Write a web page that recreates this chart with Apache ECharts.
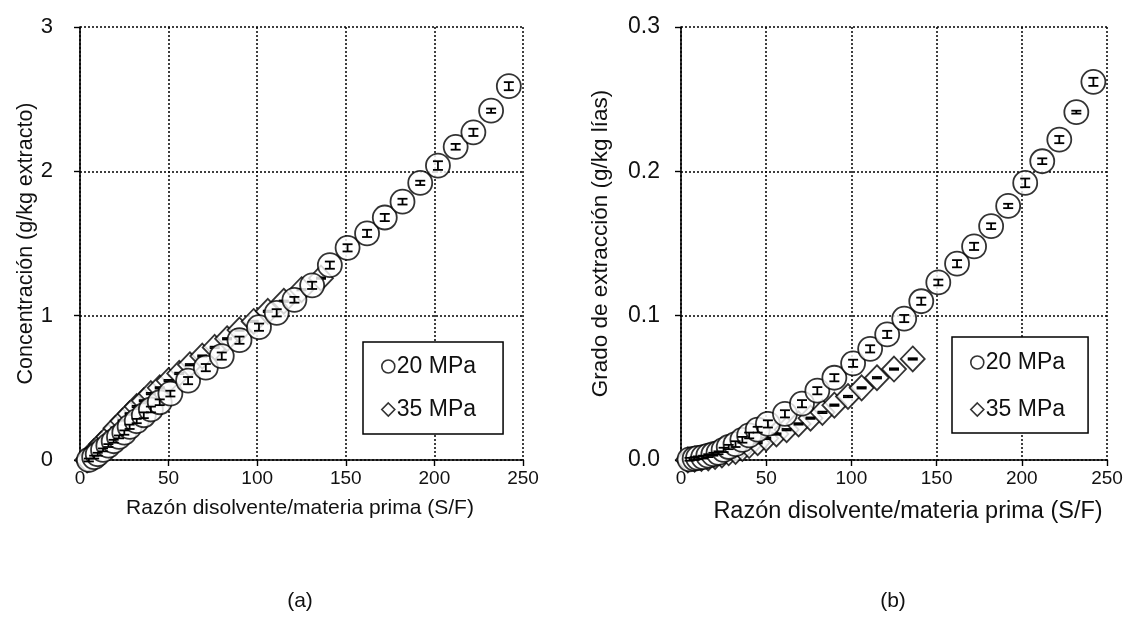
<!DOCTYPE html>
<html>
<head>
<meta charset="utf-8">
<script src="https://cdn.jsdelivr.net/npm/echarts@6/dist/echarts.min.js"></script>
<style>
  html, body { margin: 0; padding: 0; background: #fff; }
  #chart { width: 1127px; height: 621px; }
</style>
</head>
<body>
<div id="chart"></div>
<script>
// datos
const sf20 = [5, 8, 10, 13, 16, 19, 22, 25, 28, 32, 36, 40, 45, 51, 61, 71, 80, 90, 101, 111, 121, 131, 141, 151, 162, 172, 182, 192, 202, 212, 222, 232, 242]
const conc20 = [0.0, 0.02, 0.04, 0.07, 0.10, 0.13, 0.16, 0.19, 0.23, 0.27, 0.31, 0.35, 0.40, 0.46, 0.55, 0.64, 0.72, 0.83, 0.92, 1.02, 1.11, 1.21, 1.35, 1.47, 1.57, 1.68, 1.79, 1.92, 2.04, 2.17, 2.27, 2.42, 2.59]
const errConc20 = [0.01, 0.01, 0.01, 0.01, 0.01, 0.01, 0.01, 0.015, 0.015, 0.015, 0.02, 0.02, 0.02, 0.02, 0.025, 0.025, 0.025, 0.025, 0.025, 0.025, 0.02, 0.025, 0.025, 0.025, 0.025, 0.025, 0.02, 0.015, 0.03, 0.02, 0.025, 0.015, 0.028]
const grado20 = [0.0005, 0.001, 0.0015, 0.002, 0.003, 0.004, 0.005, 0.007, 0.009, 0.011, 0.014, 0.017, 0.021, 0.025, 0.032, 0.039, 0.048, 0.057, 0.067, 0.077, 0.087, 0.098, 0.110, 0.123, 0.136, 0.148, 0.162, 0.176, 0.192, 0.207, 0.222, 0.241, 0.262]
const errGrado20 = [0.001, 0.001, 0.001, 0.001, 0.001, 0.001, 0.001, 0.0015, 0.0015, 0.002, 0.002, 0.002, 0.002, 0.0025, 0.0025, 0.0025, 0.0025, 0.0025, 0.0025, 0.0025, 0.0025, 0.0025, 0.0025, 0.002, 0.0025, 0.0025, 0.002, 0.0015, 0.003, 0.002, 0.0025, 0.001, 0.0028]

const sf35 = [4, 8, 12, 16, 20, 24, 28, 32, 36, 40, 45, 50, 56, 62, 69, 76, 83, 90, 98, 106, 115, 125, 136]
const conc35 = [0.0, 0.06, 0.11, 0.16, 0.22, 0.27, 0.32, 0.37, 0.41, 0.46, 0.50, 0.55, 0.60, 0.66, 0.72, 0.78, 0.84, 0.90, 0.96, 1.03, 1.10, 1.18, 1.26]
const errConc35 = [0.005, 0.005, 0.005, 0.005, 0.005, 0.005, 0.005, 0.005, 0.005, 0.005, 0.005, 0.005, 0.005, 0.005, 0.005, 0.005, 0.005, 0.005, 0.005, 0.005, 0.005, 0.005, 0.005]
const grado35 = [0.0, 0.0005, 0.001, 0.0015, 0.0025, 0.0035, 0.005, 0.006, 0.008, 0.010, 0.012, 0.015, 0.018, 0.021, 0.025, 0.029, 0.033, 0.038, 0.044, 0.050, 0.057, 0.063, 0.070]
const errGrado35 = [0.0005, 0.0005, 0.0005, 0.0005, 0.0005, 0.0005, 0.0005, 0.0005, 0.0005, 0.0005, 0.0005, 0.0005, 0.0005, 0.0005, 0.0005, 0.0005, 0.0005, 0.0005, 0.0005, 0.0005, 0.0005, 0.0005, 0.0005]

const FONT = 'Liberation Sans, Arial, sans-serif'

function pares(xs, ys) {
  return xs.map((x, i) => [x, ys[i]])
}
function conError(xs, ys, es) {
  return xs.map((x, i) => [x, ys[i], es[i]])
}

// barra de error con tapas, dibujada sobre el marcador
function barraError(params, api) {
  let x = api.value(0), y = api.value(1), e = api.value(2)
  let pTop = api.coord([x, y + e])
  let pBot = api.coord([x, y - e])
  let cx = pTop[0]
  let h = 5
  let st = { stroke: '#000', lineWidth: 1.8 }
  return {
    type: 'group',
    children: [
      { type: 'line', shape: { x1: cx, y1: pTop[1], x2: cx, y2: pBot[1] }, style: st },
      { type: 'line', shape: { x1: cx - h, y1: pTop[1], x2: cx + h, y2: pTop[1] }, style: st },
      { type: 'line', shape: { x1: cx - h, y1: pBot[1], x2: cx + h, y2: pBot[1] }, style: st }
    ]
  }
}

function ejeX(idx) {
  return {
    type: 'value', gridIndex: idx, min: 0, max: 250, interval: 50,
    axisLine: { show: true, onZero: false, lineStyle: { color: '#000', width: 1.6 } },
    axisTick: { show: true, inside: false, length: 6, lineStyle: { color: '#000', width: 1.4 } },
    axisLabel: { color: '#111', fontSize: 19, fontFamily: FONT, margin: 9 },
    splitLine: { show: true, lineStyle: { color: '#000', type: [2, 2], width: 1.5 } }
  }
}
function ejeY(idx, max, interval, name, gap, dec, fs, lfs, lmargin) {
  return {
    type: 'value', gridIndex: idx, min: 0, max: max, interval: interval,
    name: name, nameLocation: 'middle', nameRotate: 90, nameGap: gap,
    nameTextStyle: { color: '#111', fontSize: fs, fontFamily: FONT },
    axisLine: { show: true, onZero: false, lineStyle: { color: '#000', width: 1.6 } },
    axisTick: { show: true, inside: false, length: 6, lineStyle: { color: '#000', width: 1.4 } },
    axisLabel: { color: '#111', fontSize: lfs, fontFamily: FONT, margin: lmargin,
      formatter: v => dec ? v.toFixed(1) : String(v) },
    splitLine: { show: true, lineStyle: { color: '#000', type: [2, 2], width: 1.5 } }
  }
}

function leyenda(left, top, pad, gap) {
  return {
    left: left, top: top, orient: 'vertical',
    data: ['20 MPa', '35 MPa'],
    borderColor: '#000', borderWidth: 1.5, backgroundColor: '#fff',
    padding: pad, itemGap: gap,
    itemWidth: 13, itemHeight: 13, itemStyle: { borderWidth: 1.6 },
    textStyle: { color: '#111', fontSize: 23, fontFamily: FONT, padding: [0, 0, 0, -3] },
    selectedMode: false
  }
}

let chart = echarts.init(document.getElementById('chart'))
const marca = { color: '#fff', borderColor: '#000', borderWidth: 1.8 }

chart.setOption({
  backgroundColor: '#fff',
  animation: false,
  grid: [
    { left: 80, top: 27, width: 443, height: 433 },
    { left: 681, top: 27, width: 426, height: 433 }
  ],
  xAxis: [ejeX(0), ejeX(1)],
  yAxis: [
    ejeY(0, 3, 1, 'Concentración (g/kg extracto)', 43, false, 21.5, 22, 27),
    ejeY(1, 0.3, 0.1, 'Grado de extracción (g/kg lías)', 69, true, 22.5, 23, 21)
  ],
  legend: [leyenda(363, 342, [13, 27, 13, 18], 20), leyenda(952, 337, [14, 23, 12, 18], 24)],
  graphic: [
    { type: 'text', x: 300, y: 508, style: { text: 'Razón disolvente/materia prima (S/F)', fill: '#111', font: '21px ' + FONT, textAlign: 'center', textVerticalAlign: 'middle' } },
    { type: 'text', x: 908, y: 512, style: { text: 'Razón disolvente/materia prima (S/F)', fill: '#111', font: '23.5px ' + FONT, textAlign: 'center', textVerticalAlign: 'middle' } },
    { type: 'text', x: 300, y: 601, style: { text: '(a)', fill: '#111', font: '21px ' + FONT, textAlign: 'center', textVerticalAlign: 'middle' } },
    { type: 'text', x: 893, y: 601, style: { text: '(b)', fill: '#111', font: '21px ' + FONT, textAlign: 'center', textVerticalAlign: 'middle' } }
  ],
  series: [
    { name: '35 MPa', type: 'scatter', xAxisIndex: 0, yAxisIndex: 0, symbol: 'diamond', symbolSize: [24, 25],
      itemStyle: marca, data: pares(sf35, conc35), z: 3 },
    { type: 'custom', xAxisIndex: 0, yAxisIndex: 0, renderItem: barraError, data: conError(sf35, conc35, errConc35), z: 4, silent: true },
    { name: '20 MPa', type: 'scatter', xAxisIndex: 0, yAxisIndex: 0, symbol: 'circle', symbolSize: 24,
      itemStyle: marca, data: pares(sf20, conc20), z: 5 },
    { type: 'custom', xAxisIndex: 0, yAxisIndex: 0, renderItem: barraError, data: conError(sf20, conc20, errConc20), z: 6, silent: true },

    { name: '35 MPa', type: 'scatter', xAxisIndex: 1, yAxisIndex: 1, symbol: 'diamond', symbolSize: [24, 25],
      itemStyle: marca, data: pares(sf35, grado35), z: 3 },
    { type: 'custom', xAxisIndex: 1, yAxisIndex: 1, renderItem: barraError, data: conError(sf35, grado35, errGrado35), z: 4, silent: true },
    { name: '20 MPa', type: 'scatter', xAxisIndex: 1, yAxisIndex: 1, symbol: 'circle', symbolSize: 24,
      itemStyle: marca, data: pares(sf20, grado20), z: 5 },
    { type: 'custom', xAxisIndex: 1, yAxisIndex: 1, renderItem: barraError, data: conError(sf20, grado20, errGrado20), z: 6, silent: true }
  ]
})
</script>
</body>
</html>
